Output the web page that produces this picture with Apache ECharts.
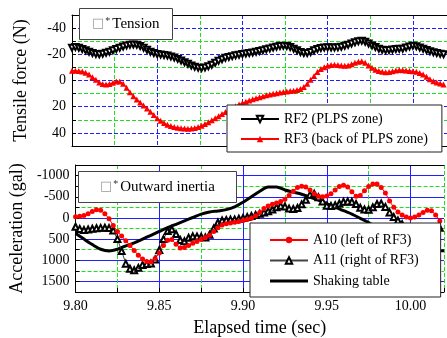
<!DOCTYPE html>
<html>
<head>
<meta charset="utf-8">
<script src="https://cdn.jsdelivr.net/npm/echarts@6/dist/echarts.min.js"></script>
<style>
html, body { margin: 0; padding: 0; background: #fff; }
#main { width: 447px; height: 338px; }
</style>
</head>
<body>
<div id="main"></div>
<script>
var startTime = 9.80;
var stepForce = 0.002;   // RF2 / RF3 sampling
var stepAccel = 0.0025;  // A10 / A11 sampling
var stepTable = 0.005;   // shaking table

var rf2 = [-25,-25.5,-25,-24,-23,-22,-21,-20.3,-20,-20.5,
  -21.2,-22,-23,-24,-25,-26,-26.8,-27.3,-27.5,-27.2,
  -26.3,-25,-23.5,-22,-21,-20.2,-19.8,-19.5,-19,-18.3,
  -17.5,-16.5,-15.3,-14,-12.8,-11.5,-10.5,-9.8,-9.6,-10,
  -10.8,-12,-13.5,-15,-16.3,-17.3,-18,-18.6,-19.2,-19.7,
  -20.2,-20.6,-21,-21.4,-21.9,-22.5,-23.1,-23.8,-24.5,-25.2,
  -25.8,-26.3,-26.5,-26.3,-25.5,-24.3,-23,-21.8,-21,-21,
  -21.8,-23,-24,-24.8,-25.2,-25.3,-25.2,-25.1,-25.3,-25.8,
  -26.5,-27.3,-28.2,-29.2,-30,-30.3,-29.6,-28.2,-26.8,-25.5,
  -24.3,-23.5,-23.2,-23.3,-23.6,-24,-24.2,-24.3,-25.2,-26,
  -26.5,-26.2,-25.2,-24.2,-23.2,-22.3,-21.6,-21,-20.4,-20];

var rf3 = [-7.5,-7.5,-7.2,-6.8,-6,-4.5,-2.5,-0.5,1.5,2.7,
  3,2.7,1.8,0.8,0.8,2.5,5.5,9,12,14.5,
  16.8,19,21.3,23.8,26.3,28.8,30.8,32.5,33.8,34.8,
  35.5,36,36.4,36.6,36.8,36.6,36.2,35.5,34.5,33.3,
  31.8,30.3,28.8,27.2,25.6,24,22.5,21,19.6,18.3,
  17.2,16.2,15.2,14.3,13.5,12.7,12,11.3,10.7,10.2,
  9.7,9.2,8.8,8.4,8.1,7.8,7.3,6.5,5,2.5,
  -0.5,-3.5,-6.5,-8.7,-10.2,-11.2,-11.8,-12,-11.8,-11.4,
  -11.2,-11.5,-12.5,-13.5,-14.3,-14.6,-13.5,-11.5,-9.7,-8.3,
  -7.3,-6.6,-6.3,-6.5,-7,-7.6,-8,-7.9,-7.6,-7.3,
  -7,-6.6,-5.8,-4.5,-2.8,-1,0.5,1.5,2.3,3];

var a10 = [-30,-40,-60,-100,-150,-190,-180,-100,20,180,
  320,430,540,650,770,880,970,1030,1040,960,
  830,650,530,510,620,710,700,650,600,560,
  510,460,410,320,230,170,140,120,105,85,
  60,35,5,-50,-130,-220,-280,-320,-350,-390,
  -440,-530,-630,-720,-750,-730,-660,-570,-510,-500,
  -520,-570,-660,-740,-770,-730,-620,-510,-530,-640,
  -740,-800,-800,-720,-590,-400,-250,-140,-70,-20,
  0,-20,-70,-130,-180,-170,-70,70];

var a11 = [210,260,285,275,255,245,235,232,240,300,
  500,780,1080,1200,1235,1180,1110,1090,1075,980,
  760,500,310,270,380,520,550,470,435,440,
  445,460,400,250,110,60,50,40,35,20,
  0,-20,-45,-70,-100,-130,-160,-200,-250,-285,
  -270,-220,-210,-235,-320,-430,-550,-570,-490,-390,
  -290,-280,-300,-340,-380,-390,-380,-330,-240,-200,
  -195,-250,-330,-340,-260,-130,-20,60,150,230,
  290,320,330,320,300,280,270,235];

var shakingTable = [363,500,630,740,780,740,660,590,500,410,
  320,232,150,70,-10,-90,-140,-165,-195,-260,
  -370,-500,-630,-730,-730,-660,-610,-560,-490,-420,
  -340,-260,-170,-90,10,110,230,360,480,590,
  680,740,770,775,775];

var timeLabels = ['9.80', '9.85', '9.90', '9.95', '10.00'];

function withTime(values, step) {
    return values.map(function (v, i) {
        return [+(startTime + i * step).toFixed(4), v];
    });
}

var serif = 'Liberation Serif';
var BLUE = '#1f1fff';
var GREEN = '#1ee01e';

function xLabel(v) {
    var s = v.toFixed(2);
    return timeLabels.indexOf(s) >= 0 && Math.abs(v * 20 - Math.round(v * 20)) < 1e-6 ? s : '';
}

const Chart = echarts.init(document.getElementById('main'), null, { renderer: 'canvas' });

var xBase = {
    type: 'value', min: 9.80, max: 10.02, interval: 0.025,
    axisLine: { onZero: false, lineStyle: { color: '#000', width: 1 } },
    axisTick: { show: false },
    axisLabel: { show: false },
    splitLine: { show: false }
};
function merge(a, b) { return Object.assign({}, a, b); }

var boxTitle = {
    backgroundColor: '#fff',
    borderColor: '#444', borderWidth: 1,
    textStyle: {
        fontFamily: serif, fontSize: 15, fontWeight: 'normal', color: '#000',
        rich: {
            box: { fontFamily: 'DejaVu Sans', fontSize: 13, color: '#999' },
            star: { fontSize: 10, verticalAlign: 'top', padding: [0, 2, 6, 1], color: '#333' }
        }
    }
};

var legendBase = {
    orient: 'vertical',
    itemWidth: 38, itemHeight: 8,
    backgroundColor: '#fff', borderColor: '#222', borderWidth: 1,
    selectedMode: false,
    textStyle: { fontFamily: serif, fontSize: 14, color: '#000' }
};

var option = {
    animation: false,
    textStyle: { fontFamily: serif },
    title: [
        merge(boxTitle, { text: '{box|\u25a1}{star|*}Tension', left: 79, top: 8, padding: [8, 13] }),
        merge(boxTitle, { text: '{box|\u25a1}{star|*}Outward inertia', left: 78, top: 171, padding: [8, 22] })
    ],
    legend: [
        merge(legendBase, {
            data: ['RF2 (PLPS zone)', 'RF3 (back of PLPS zone)'],
            left: 227, top: 105, padding: [7, 14, 6, 13], itemGap: 6
        }),
        merge(legendBase, {
            data: ['A10 (left of RF3)', 'A11 (right of RF3)', {
                name: 'Shaking table',
                icon: 'path://M0,0H40V3H0Z',
                itemStyle: { color: '#000' }
            }],
            left: 250, top: 223, padding: [10, 22, 9, 19], itemGap: 6.5
        })
    ],
    grid: [
        { left: 72, right: -3, top: 15, height: 131 },
        { left: 72, right: -3, top: 165, height: 129 }
    ],
    xAxis: [
        merge(xBase, { gridIndex: 0, position: 'bottom',
            splitLine: { show: true, lineStyle: { color: [BLUE, GREEN], type: [4, 2], width: 1 } } }),
        merge(xBase, { gridIndex: 0, position: 'top' }),
        merge(xBase, { gridIndex: 1, position: 'bottom',
            axisTick: { show: true, inside: true, length: 4 },
            axisLabel: { show: true, formatter: xLabel, fontSize: 14, color: '#000', margin: 7, fontFamily: serif },
            name: 'Elapsed time (sec)', nameLocation: 'middle', nameGap: 27,
            nameTextStyle: { fontFamily: serif, fontSize: 18, color: '#000' },
            splitLine: { show: true, lineStyle: { color: ['transparent', GREEN], type: [4, 2], width: 1 } } }),
        merge(xBase, { gridIndex: 1, position: 'top',
            splitLine: { show: true, lineStyle: { color: [BLUE, 'transparent'], type: 'solid', width: 1 } } })
    ],
    yAxis: [{
        gridIndex: 0, type: 'value', min: -50, max: 50, interval: 10, inverse: true,
        axisLine: { show: true, lineStyle: { color: '#000' } },
        axisTick: { show: true, inside: true, length: 4 },
        axisLabel: {
            fontSize: 14, color: '#000', margin: 6, fontFamily: serif,
            formatter: function (v) { return v % 20 === 0 && Math.abs(v) < 50 ? String(v) : ''; }
        },
        name: 'Tensile force (N)', nameLocation: 'middle', nameGap: 42,
        nameTextStyle: { fontFamily: serif, fontSize: 18, color: '#000' },
        splitLine: { show: true, lineStyle: { color: [GREEN, BLUE], type: [4, 2], width: 1 } }
    }, {
        gridIndex: 1, type: 'value', min: -1250, max: 1750, interval: 250, inverse: true,
        axisLine: { show: true, lineStyle: { color: '#000' } },
        axisTick: { show: true, inside: true, length: 4 },
        axisLabel: {
            fontSize: 14, color: '#000', margin: 6, fontFamily: serif,
            formatter: function (v) { return v % 500 === 0 ? String(v) : ''; }
        },
        name: 'Acceleration (gal)', nameLocation: 'middle', nameGap: 42,
        nameTextStyle: { fontFamily: serif, fontSize: 18, color: '#000' },
        splitLine: { show: true, lineStyle: { color: [GREEN, 'transparent'], type: [4, 2], width: 1 } }
    }, {
        gridIndex: 1, type: 'value', min: -1250, max: 1750, interval: 250, inverse: true,
        axisLine: { show: false }, axisTick: { show: false }, axisLabel: { show: false },
        splitLine: { show: true, lineStyle: { color: ['transparent', BLUE], type: 'solid', width: 1 } }
    }],
    series: [{
        name: 'RF2 (PLPS zone)', type: 'line', xAxisIndex: 0, yAxisIndex: 0,
        data: withTime(rf2, stepForce),
        symbol: 'emptyTriangle', symbolSize: 6, symbolRotate: 180,
        itemStyle: { color: '#000', borderWidth: 1 },
        lineStyle: { color: '#000', width: 1 }
    }, {
        name: 'RF3 (back of PLPS zone)', type: 'line', xAxisIndex: 0, yAxisIndex: 0,
        data: withTime(rf3, stepForce),
        symbol: 'triangle', symbolSize: 6,
        itemStyle: { color: '#ff0000' },
        lineStyle: { color: '#ff0000', width: 1.2 }
    }, {
        name: 'Shaking table', type: 'line', xAxisIndex: 2, yAxisIndex: 1,
        data: withTime(shakingTable, stepTable),
        smooth: 0.3, showSymbol: false, symbol: 'none',
        itemStyle: { color: '#000' },
        lineStyle: { color: '#000', width: 3 }
    }, {
        name: 'A11 (right of RF3)', type: 'line', xAxisIndex: 2, yAxisIndex: 1,
        data: withTime(a11, stepAccel),
        symbol: 'emptyTriangle', symbolSize: 6,
        itemStyle: { color: '#000', borderWidth: 1 },
        lineStyle: { color: '#444', width: 1 }
    }, {
        name: 'A10 (left of RF3)', type: 'line', xAxisIndex: 2, yAxisIndex: 1,
        data: withTime(a10, stepAccel),
        symbol: 'circle', symbolSize: 5,
        itemStyle: { color: '#ff0000' },
        lineStyle: { color: '#ff0000', width: 1 }
    }]
};

Chart.setOption(option);
</script>
</body>
</html>
